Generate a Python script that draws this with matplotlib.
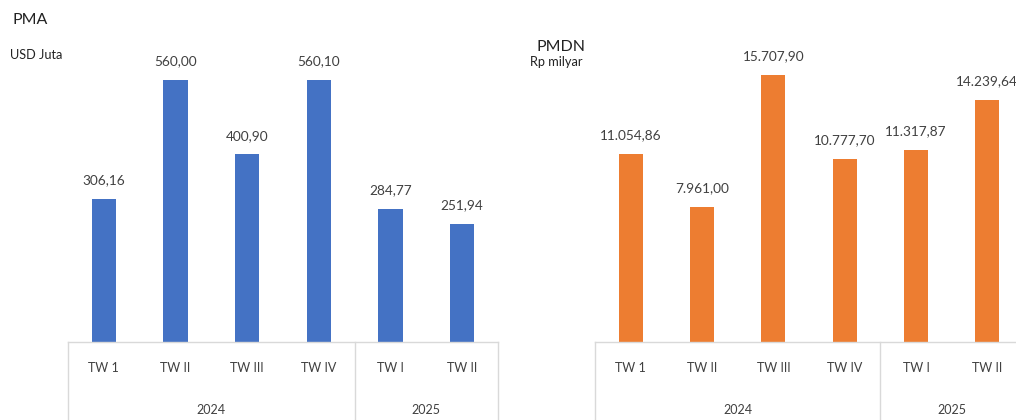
import matplotlib.pyplot as plt
import matplotlib.transforms as mtransforms

plt.rcParams['font.family'] = ['Lato', 'DejaVu Sans']

# Data
quarters = ['TW 1', 'TW II', 'TW III', 'TW IV', 'TW I', 'TW II']
years = ['2024', '2025']
year_counts = [4, 2]
pma = [306.16, 560.00, 400.90, 560.10, 284.77, 251.94]
pmdn = [11054.86, 7961.00, 15707.90, 10777.70, 11317.87, 14239.64]

BLUE = '#4472C4'
ORANGE = '#ED7D31'
TXT = '#404040'
GRID = '#D9D9D9'

W, H = 1016, 420
fig = plt.figure(figsize=(W / 100, H / 100), dpi=100)


def fmt_id(v):
    s = f"{v:,.2f}"
    return s.replace(',', 'X').replace('.', ',').replace('X', '.')


def panel(left_px, width_px, values, color, ymax):
    base_px = 342
    ax = fig.add_axes([left_px / W, (H - base_px) / H, width_px / W, base_px / H])
    x = list(range(len(values)))
    ax.bar(x, values, width=0.34, color=color)
    for xi, v in zip(x, values):
        ax.annotate(fmt_id(v), (xi, v), xytext=(0, 9), textcoords='offset points',
                    ha='center', va='bottom', fontsize=9.8, color=TXT)
    ax.set_xlim(-0.5, len(values) - 0.5)
    ax.set_ylim(0, ymax)
    ax.axis('off')

    tr = mtransforms.blended_transform_factory(ax.transData, ax.transAxes)
    low = -0.3
    ax.plot([-0.5, len(values) - 0.5], [0, 0], transform=tr, color=GRID, lw=1, clip_on=False)
    edges = [-0.5]
    for c in year_counts:
        edges.append(edges[-1] + c)
    for e in edges:
        ax.plot([e, e], [0, low], transform=tr, color=GRID, lw=1, clip_on=False)
    for xi, q in zip(x, quarters):
        ax.text(xi, -0.076, q, transform=tr, ha='center', va='center',
                fontsize=9, color=TXT)
    for i, y in enumerate(years):
        mid = (edges[i] + edges[i + 1]) / 2
        ax.text(mid, -0.2, y, transform=tr, ha='center', va='center',
                fontsize=9, color=TXT)
    return ax


panel(68, 430, pma, BLUE, 342 / 0.468)
panel(595, 428, pmdn, ORANGE, 342 / 0.0170)

fig.text(12 / W, 1 - 20 / H, 'PMA', fontsize=11.5, color='#222222', va='center')
fig.text(10 / W, 1 - 55 / H, 'USD Juta', fontsize=9.2, color='#222222', va='center')
fig.text(537 / W, 1 - 47 / H, 'PMDN', fontsize=11.5, color='#222222', va='center')
fig.text(530 / W, 1 - 62 / H, 'Rp milyar', fontsize=9.2, color='#222222', va='center')

fig.savefig('out.png', dpi=100)
